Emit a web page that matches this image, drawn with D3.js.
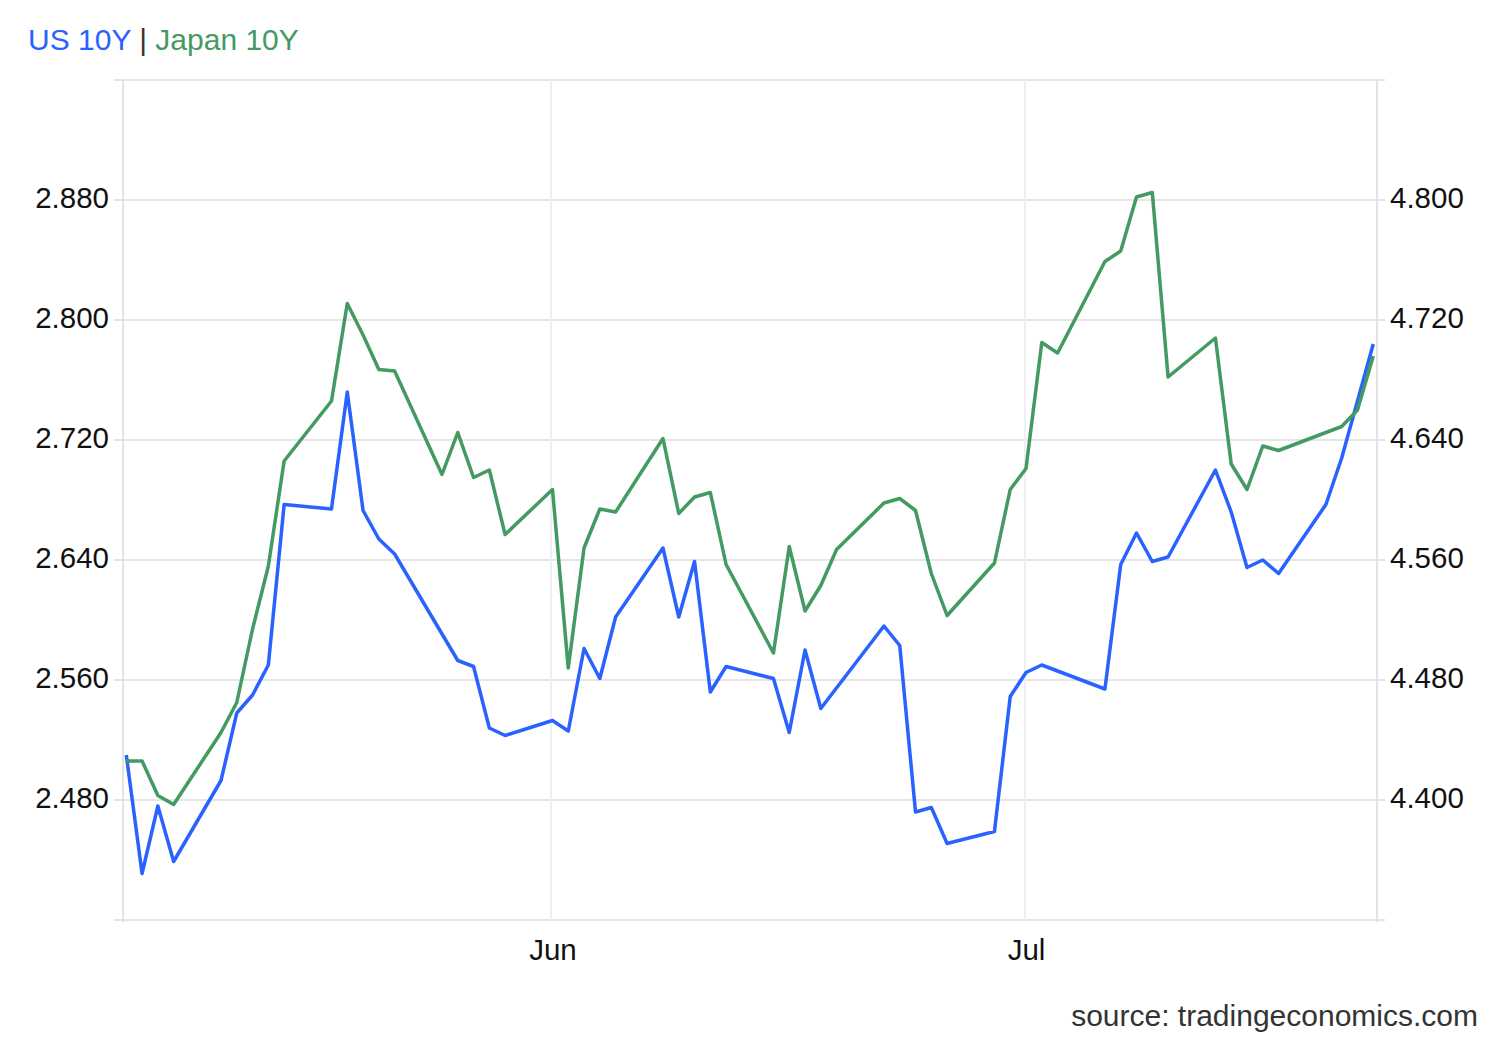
<!DOCTYPE html>
<html>
<head>
<meta charset="utf-8">
<script src="https://cdn.jsdelivr.net/npm/d3@7"></script>
<style>
  html, body { margin: 0; padding: 0; background: #ffffff; }
  svg { display: block; font-family: "Liberation Sans", Arial, sans-serif; }
</style>
</head>
<body>
<svg id="chart" width="1500" height="1040"></svg>
<script>
// ---- data (trading days, May 5 – Jul 23) ----
const dates = [
  "2026-05-05","2026-05-06","2026-05-07","2026-05-08",
  "2026-05-11","2026-05-12","2026-05-13","2026-05-14","2026-05-15",
  "2026-05-18","2026-05-19","2026-05-20","2026-05-21","2026-05-22",
  "2026-05-25","2026-05-26","2026-05-27","2026-05-28","2026-05-29",
  "2026-06-01","2026-06-02","2026-06-03","2026-06-04","2026-06-05",
  "2026-06-08","2026-06-09","2026-06-10","2026-06-11","2026-06-12",
  "2026-06-15","2026-06-16","2026-06-17","2026-06-18","2026-06-19",
  "2026-06-22","2026-06-23","2026-06-24","2026-06-25","2026-06-26",
  "2026-06-29","2026-06-30","2026-07-01","2026-07-02","2026-07-03",
  "2026-07-06","2026-07-07","2026-07-08","2026-07-09","2026-07-10",
  "2026-07-13","2026-07-14","2026-07-15","2026-07-16","2026-07-17",
  "2026-07-20","2026-07-21","2026-07-22","2026-07-23"
];
// US 10Y (right axis)
const us10y = [
  4.430, 4.351, 4.396, 4.359,
  4.413, 4.458, 4.470, 4.490, 4.597,
  4.594, 4.672, 4.593, 4.574, 4.564,
  null,  4.493, 4.489, 4.448, 4.443,
  4.453, 4.446, 4.501, 4.481, 4.522,
  4.568, 4.522, 4.559, 4.472, 4.489,
  4.481, 4.445, 4.500, 4.461, null,
  4.516, 4.503, 4.392, 4.395, 4.371,
  4.379, 4.469, 4.485, 4.490, null,
  4.474, 4.557, 4.578, 4.559, 4.562,
  4.620, 4.592, 4.555, 4.560, 4.551,
  4.597, 4.628, 4.666, 4.704
];
// Japan 10Y (left axis)
const japan10y = [
  2.506, 2.506, 2.483, 2.477,
  2.525, 2.545, 2.594, 2.636, 2.706,
  2.746, 2.811, 2.790, 2.767, 2.766,
  2.697, 2.725, 2.695, 2.700, 2.657,
  2.687, 2.568, 2.648, 2.674, 2.672,
  2.721, 2.671, 2.682, 2.685, 2.637,
  2.578, 2.649, 2.606, 2.623, 2.647,
  2.678, 2.681, 2.673, 2.631, 2.603,
  2.638, 2.687, 2.701, 2.785, 2.778,
  2.839, 2.846, 2.882, 2.885, 2.762,
  2.788, 2.704, 2.687, 2.716, 2.713,
  null,  2.729, 2.740, 2.776
];
const leftTicks = [2.48, 2.56, 2.64, 2.72, 2.80, 2.88];
const rightTicks = [4.40, 4.48, 4.56, 4.64, 4.72, 4.80];
const leftGrid = [2.40, 2.48, 2.56, 2.64, 2.72, 2.80, 2.88, 2.96];
const leftDomain = [2.40, 2.96];
const rightDomain = [4.32, 4.88];
const monthTicks = ["2026-06-01", "2026-07-01"];

// ---- layout ----
const W = 1500, H = 1040;
const plot = { left: 123, right: 1377, top: 80, bottom: 920 };
const BLUE = "#2962ff", GREEN = "#439a62";
const FONT = 29.5;

const svg = d3.select("#chart");
const parse = d3.utcParse("%Y-%m-%d");
const D = dates.map(parse);

const x = d3.scaleUtc()
  .domain([d3.utcMinute.offset(D[0], -300), d3.utcMinute.offset(D[D.length - 1], 340)])
  .range([plot.left, plot.right]);
const yL = d3.scaleLinear().domain(leftDomain).range([plot.bottom, plot.top]);
const yR = d3.scaleLinear().domain(rightDomain).range([plot.bottom, plot.top]);

// horizontal gridlines
svg.append("g").selectAll("line").data(leftGrid).join("line")
  .attr("x1", plot.left - 9).attr("x2", plot.right + 8)
  .attr("y1", d => yL(d)).attr("y2", d => yL(d))
  .attr("stroke", "#e6e6e6").attr("stroke-width", 2);

// vertical month gridlines
svg.append("g").selectAll("line").data(monthTicks.map(parse)).join("line")
  .attr("x1", d => Math.round(x(d)) - 1).attr("x2", d => Math.round(x(d)) - 1)
  .attr("y1", plot.top).attr("y2", plot.bottom)
  .attr("stroke", "#eef0f3").attr("stroke-width", 2);

// axis frame lines
svg.append("line").attr("x1", plot.left).attr("x2", plot.left)
  .attr("y1", plot.top - 1).attr("y2", plot.bottom + 2)
  .attr("stroke", "#e3e3e3").attr("stroke-width", 2);
svg.append("line").attr("x1", plot.right).attr("x2", plot.right)
  .attr("y1", plot.top - 1).attr("y2", plot.bottom + 2)
  .attr("stroke", "#e3e3e3").attr("stroke-width", 2);

// left axis labels
const gL = svg.append("g").attr("transform", `translate(${plot.left},0)`)
  .call(d3.axisLeft(yL).tickValues(leftTicks).tickSize(0).tickPadding(14)
    .tickFormat(d3.format(".3f")));
gL.select(".domain").remove();
gL.selectAll("text").attr("font-size", FONT).attr("fill", "#111")
  .attr("font-family", "Liberation Sans, Arial, sans-serif").attr("dy", "0.25em");

// right axis labels
const gR = svg.append("g").attr("transform", `translate(${plot.right},0)`)
  .call(d3.axisRight(yR).tickValues(rightTicks).tickSize(0).tickPadding(13)
    .tickFormat(d3.format(".3f")));
gR.select(".domain").remove();
gR.selectAll("text").attr("font-size", FONT).attr("fill", "#111")
  .attr("font-family", "Liberation Sans, Arial, sans-serif").attr("dy", "0.25em");

// bottom axis labels
const gB = svg.append("g").attr("transform", `translate(0,${plot.bottom})`)
  .call(d3.axisBottom(x).tickValues(monthTicks.map(parse)).tickSize(0).tickPadding(19)
    .tickFormat(d3.utcFormat("%b")));
gB.select(".domain").remove();
gB.selectAll("text").attr("font-size", FONT).attr("fill", "#111")
  .attr("font-family", "Liberation Sans, Arial, sans-serif");

// lines
const usData = D.map((d, i) => ({ d, v: us10y[i] })).filter(p => p.v != null);
const jpData = D.map((d, i) => ({ d, v: japan10y[i] })).filter(p => p.v != null);

svg.append("path").datum(usData)
  .attr("fill", "none").attr("stroke", BLUE).attr("stroke-width", 3.5)
  .attr("stroke-linejoin", "round")
  .attr("d", d3.line().x(p => x(p.d)).y(p => yR(p.v)));

svg.append("path").datum(jpData)
  .attr("fill", "none").attr("stroke", GREEN).attr("stroke-width", 3.5)
  .attr("stroke-linejoin", "round")
  .attr("d", d3.line().x(p => x(p.d)).y(p => yL(p.v)));

// title
const title = svg.append("text").attr("x", 28).attr("y", 50)
  .attr("font-size", 30);
title.append("tspan").attr("fill", BLUE).text("US 10Y");
title.append("tspan").attr("fill", "#333").text(" | ");
title.append("tspan").attr("fill", GREEN).text("Japan 10Y");

// source
svg.append("text").attr("x", 1478).attr("y", 1026)
  .attr("text-anchor", "end").attr("font-size", 30).attr("fill", "#333")
  .text("source: tradingeconomics.com");
</script>
</body>
</html>
